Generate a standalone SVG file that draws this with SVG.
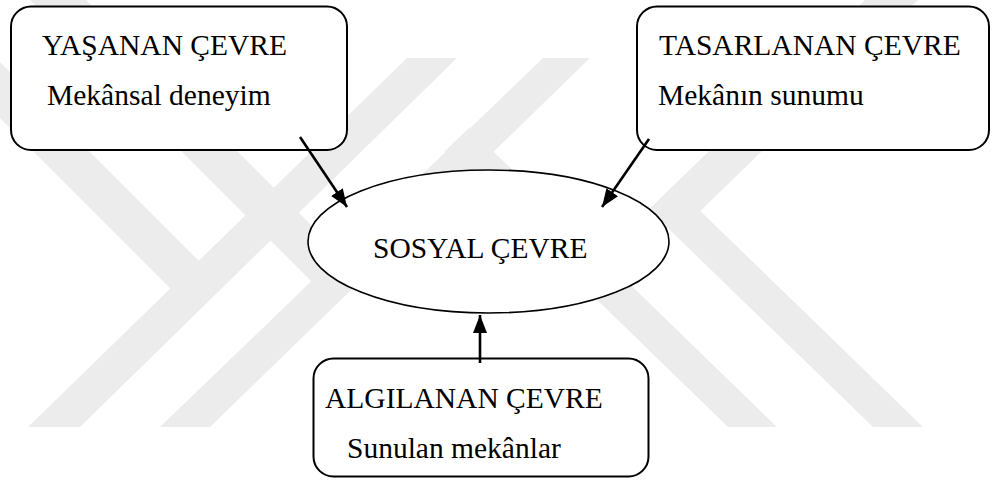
<svg xmlns="http://www.w3.org/2000/svg" width="992" height="482" viewBox="0 0 992 482">
  <defs>
    <style>
      .wm { fill: #ececec; stroke: none; }
      .box { fill: #ffffff; stroke: #000000; stroke-width: 2; }
      .ell { fill: #ffffff; stroke: #000000; stroke-width: 1.6; }
      .t { font-family: "Liberation Serif", "Times New Roman", serif; font-size: 29.5px; fill: #000000; }
      .arrow { stroke: #000000; stroke-width: 2.6; fill: none; marker-end: url(#ah); }
    </style>
    <marker id="ah" markerUnits="userSpaceOnUse" markerWidth="20" markerHeight="16" refX="18" refY="8" orient="auto">
      <path d="M0,1 L18,8 L0,15 Z" fill="#000000"/>
    </marker>
  </defs>
  <rect width="992" height="482" fill="#ffffff"/>
  <g id="watermark">
    <polygon class="wm" points="407,58 457,58 80,427 28,427"/>
    <polygon class="wm" points="0,62 205,267 175,293 0,118"/>
    <polygon class="wm" points="543,58 590,58 210,427 160,427"/>
    <polygon class="wm" points="86,0 345,259 315,285 30,0"/>
    <polygon class="wm" points="469,128 777,427 728,427 444.5,151.5"/>
    <polygon class="wm" points="865,0 918,0 700.3,210.9 923,427 873,427 648.8,209.5"/>
  </g>
  <g id="yasanan">
    <rect class="box" x="11" y="6.5" width="336" height="143.5" rx="20" ry="20"/>
    <text class="t" x="42" y="55">YAŞANAN ÇEVRE</text>
    <text class="t" x="47" y="105">Mekânsal deneyim</text>
  </g>
  <g id="tasarlanan">
    <rect class="box" x="637" y="6.5" width="352" height="143.5" rx="20" ry="20"/>
    <text class="t" x="659" y="55">TASARLANAN ÇEVRE</text>
    <text class="t" x="658" y="105">Mekânın sunumu</text>
  </g>
  <g id="sosyal">
    <ellipse class="ell" cx="488.5" cy="241.5" rx="180.5" ry="71.5"/>
    <text class="t" x="373" y="258">SOSYAL ÇEVRE</text>
  </g>
  <g id="algilanan">
    <rect class="box" x="313.5" y="358.5" width="335" height="118" rx="20" ry="20"/>
    <text class="t" x="325" y="408">ALGILANAN ÇEVRE</text>
    <text class="t" x="347" y="458">Sunulan mekânlar</text>
  </g>
  <g id="connectors">
    <line class="arrow" x1="300" y1="137" x2="347" y2="207"/>
    <line class="arrow" x1="649" y1="139" x2="602" y2="207"/>
    <line class="arrow" x1="480" y1="363" x2="480" y2="315"/>
  </g>
</svg>
